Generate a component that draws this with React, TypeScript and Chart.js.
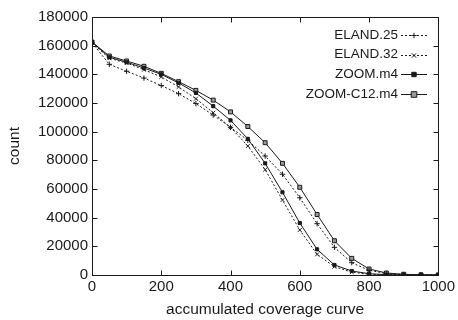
import React, { useEffect, useRef } from "react";
import { Chart, registerables } from "chart.js";

Chart.register(...registerables);

const xValues = [0, 50, 100, 150, 200, 250, 300, 350, 400, 450, 500, 550, 600, 650, 700, 750, 800, 850, 900, 950, 1000];
const eland25 = [162000, 147000, 142100, 137400, 132200, 126500, 119600, 111600, 103000, 94000, 83000, 70300, 53900, 35800, 19300, 8600, 3300, 1000, 300, 100, 20];
const eland32 = [162000, 151200, 147900, 143200, 138200, 131200, 123000, 113200, 103000, 90000, 73500, 52300, 31400, 14400, 5800, 2000, 500, 150, 50, 0, 0];
const zoomM4 = [162500, 151900, 148400, 144400, 140000, 134000, 127000, 117800, 107900, 95000, 77900, 57700, 36300, 17900, 7000, 2800, 900, 250, 80, 20, 0];
const zoomC12 = [162500, 152800, 149300, 145600, 140700, 134900, 128800, 122000, 113800, 103600, 92300, 77900, 61200, 42200, 23900, 11600, 4200, 1400, 500, 150, 50];
const seriesNames = ["ELAND.25", "ELAND.32", "ZOOM.m4", "ZOOM-C12.m4"];
const xTicks = [0, 200, 400, 600, 800, 1000];
const yTicks = [0, 20000, 40000, 60000, 80000, 100000, 120000, 140000, 160000, 180000];
const xTitle = "accumulated coverage curve";
const yTitle = "count";

const INK = "#1a1a1a";
const FONT = "'Liberation Sans', Arial, Helvetica, sans-serif";

function drawMarker(ctx: CanvasRenderingContext2D, style: string, x: number, y: number, r: number, fill: string) {
  ctx.save();
  ctx.strokeStyle = INK;
  ctx.lineWidth = 1;
  ctx.setLineDash([]);
  ctx.beginPath();
  if (style === "cross") {
    ctx.moveTo(x - r, y); ctx.lineTo(x + r, y);
    ctx.moveTo(x, y - r); ctx.lineTo(x, y + r);
    ctx.stroke();
  } else if (style === "crossRot") {
    ctx.moveTo(x - r * 0.8, y - r * 0.8); ctx.lineTo(x + r * 0.8, y + r * 0.8);
    ctx.moveTo(x + r * 0.8, y - r * 0.8); ctx.lineTo(x - r * 0.8, y + r * 0.8);
    ctx.stroke();
  } else {
    ctx.fillStyle = fill;
    ctx.rect(x - r, y - r, r * 2, r * 2);
    ctx.fill();
    ctx.stroke();
  }
  ctx.restore();
}

const frameAndLegend = {
  id: "frameAndLegend",
  afterDraw(chart: any) {
    const ctx = chart.ctx as CanvasRenderingContext2D;
    const { left, right, top, bottom } = chart.chartArea;
    const xs = chart.scales.x;
    const ys = chart.scales.y;
    ctx.save();
    ctx.strokeStyle = INK;
    ctx.lineWidth = 1;
    ctx.setLineDash([]);
    const L = Math.round(left) + 0.5, R = Math.round(right) + 0.5, T = Math.round(top) + 0.5, B = Math.round(bottom) + 0.5;
    ctx.strokeRect(L, T, R - L, B - T);
    const tl = 5;
    ctx.beginPath();
    xTicks.forEach((v) => {
      const px = Math.round(xs.getPixelForValue(v)) + 0.5;
      ctx.moveTo(px, B); ctx.lineTo(px, B - tl);
      ctx.moveTo(px, T); ctx.lineTo(px, T + tl);
    });
    yTicks.forEach((v) => {
      const py = Math.round(ys.getPixelForValue(v)) + 0.5;
      ctx.moveTo(L, py); ctx.lineTo(L + tl, py);
      ctx.moveTo(R, py); ctx.lineTo(R - tl, py);
    });
    ctx.stroke();

    // legend
    ctx.font = `13.5px ${FONT}`;
    ctx.fillStyle = INK;
    ctx.textAlign = "right";
    ctx.textBaseline = "middle";
    const textRight = 398;
    const lx0 = 401, lx1 = 427;
    chart.data.datasets.forEach((ds: any, i: number) => {
      const y = 35 + i * 19.7;
      ctx.fillText(ds.label, textRight, y);
      ctx.save();
      ctx.strokeStyle = INK;
      ctx.lineWidth = 1;
      ctx.setLineDash(ds.borderDash || []);
      ctx.beginPath();
      ctx.moveTo(lx0, Math.round(y) + 0.5);
      ctx.lineTo(lx1, Math.round(y) + 0.5);
      ctx.stroke();
      ctx.restore();
      drawMarker(ctx, ds.pointStyle, (lx0 + lx1) / 2, Math.round(y) + 0.5, ds.pointRadius, ds.pointBackgroundColor);
    });
    ctx.restore();
  },
};

export default function App() {
  const ref = useRef<HTMLCanvasElement | null>(null);
  useEffect(() => {
    if (!ref.current) return;
    const mk = (arr: number[]) => xValues.map((x, i) => ({ x, y: arr[i] }));
    const common = { borderColor: INK, borderWidth: 1, pointBorderColor: INK, pointBorderWidth: 1, fill: false, tension: 0 };
    const chart = new Chart(ref.current, {
      type: "line",
      data: {
        datasets: [
          { ...common, label: seriesNames[0], data: mk(eland25), borderDash: [2, 2], pointStyle: "cross", pointRadius: 2.7, pointBackgroundColor: INK },
          { ...common, label: seriesNames[1], data: mk(eland32), borderDash: [2, 2], pointStyle: "crossRot", pointRadius: 2.7, pointBackgroundColor: INK },
          { ...common, label: seriesNames[2], data: mk(zoomM4), pointStyle: "rect", pointRadius: 2.2, pointBackgroundColor: INK },
          { ...common, label: seriesNames[3], data: mk(zoomC12), pointStyle: "rect", pointRadius: 2.8, pointBackgroundColor: "#9a9a9a" },
        ],
      },
      options: {
        animation: false,
        responsive: false,
        layout: { padding: { left: 0, right: 18, top: 17, bottom: 0 } },
        plugins: { legend: { display: false }, tooltip: { enabled: false } },
        scales: {
          x: {
            type: "linear",
            min: 0,
            max: 1000,
            afterFit: (s: any) => { s.height = 45; },
            afterBuildTicks: (s: any) => { s.ticks = xTicks.map((v) => ({ value: v })); },
            grid: { display: false, drawTicks: false },
            border: { display: false },
            ticks: { padding: 3, color: INK, font: { family: FONT, size: 15 }, maxRotation: 0, callback: (v: any) => String(v) },
            title: { display: true, text: xTitle, color: INK, font: { family: FONT, size: 15.5 }, padding: { top: 0, bottom: 1 } },
          },
          y: {
            type: "linear",
            min: 0,
            max: 180000,
            afterFit: (s: any) => { s.width = 92; },
            afterBuildTicks: (s: any) => { s.ticks = yTicks.map((v) => ({ value: v })); },
            grid: { display: false, drawTicks: false },
            border: { display: false },
            ticks: { padding: 4, color: INK, font: { family: FONT, size: 15 }, callback: (v: any) => String(v) },
            title: { display: true, text: yTitle, color: INK, font: { family: FONT, size: 15.5 }, padding: { top: 5, bottom: 0 } },
          },
        },
      },
      plugins: [frameAndLegend],
    });
    return () => chart.destroy();
  }, []);
  return (
    <div style={{ position: "absolute", left: 0, top: 0, width: 458, height: 320, background: "#fff" }}>
      <canvas ref={ref} width={458} height={320} style={{ width: 458, height: 320, display: "block" }} />
    </div>
  );
}
